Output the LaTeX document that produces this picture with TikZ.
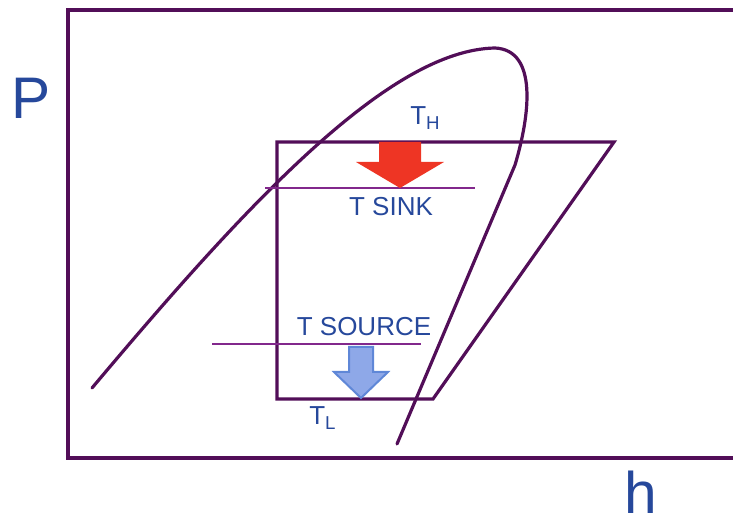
\documentclass[tikz,border=0pt]{standalone}
\usepackage{fontspec}
\setmainfont{Liberation Sans}
\definecolor{curve}{RGB}{82,14,88}
\definecolor{thin}{RGB}{130,40,140}
\definecolor{txt}{RGB}{38,72,155}
\definecolor{redar}{RGB}{238,53,36}
\definecolor{bluefill}{RGB}{142,168,232}
\definecolor{blueedge}{RGB}{95,135,215}
\begin{document}
\begin{tikzpicture}[x=0.75pt,y=-0.75pt,
  thick line/.style={draw=curve,line width=2.4pt,line join=miter},
  thin line/.style={draw=thin,line width=1.1pt},
  lbl/.style={text=txt,font=\fontsize{19.5}{20}\selectfont,inner sep=0pt},
  big/.style={text=txt,font=\fontsize{44}{44}\selectfont,inner sep=0pt}]
\useasboundingbox (0,0) rectangle (733,523);
% frame
\coordinate (ftr) at (733,10);
\coordinate (ftl) at (68,10);
\coordinate (fbl) at (68,458);
\coordinate (fbr) at (733,458);
\draw[thick line] (ftr) -- (ftl) -- (fbl) -- (fbr);
% dome
\draw[thick line,line cap=round] (92,388) .. controls (250,200) and (390,50) .. (495,48)
  .. controls (538,50) and (530,115) .. (515,165) -- (397,444);
% cycle
\coordinate (a) at (277,142);
\coordinate (b) at (614,142);
\coordinate (c) at (433,399);
\coordinate (d) at (277,399);
\draw[thick line] (a) -- (b) -- (c) -- (d) -- cycle;
% thin lines
\coordinate (s1) at (265,188); \coordinate (s2) at (475,188);
\draw[thin line] (s1) -- (s2);
\coordinate (o1) at (212,344); \coordinate (o2) at (421,344);
\draw[thin line] (o1) -- (o2);
% red arrow
\fill[redar] (379,142) -- (421,142) -- (421,162) -- (444,162) -- (400,188) -- (356,162) -- (379,162) -- cycle;
% blue arrow
\draw[fill=bluefill,draw=blueedge,line width=1.5pt,line join=miter] (349,347) -- (373,347) -- (373,372) -- (388,372) -- (361,398) -- (334,372) -- (349,372) -- cycle;
% labels
\node[big] (P) at (31,98) {P};
\node[big] (h) at (641,492) {h};
\node[lbl,anchor=base west] (TH) at (410,125) {T\raisebox{-0.35ex}{\fontsize{14}{14}\selectfont H}};
\node[lbl] (tsink) at (391,207) {T SINK};
\node[lbl] (tsrc) at (364,327) {T SOURCE};
\node[lbl,anchor=base west] (TL) at (309,425) {T\raisebox{-0.35ex}{\fontsize{14}{14}\selectfont L}};
\end{tikzpicture}
\end{document}
